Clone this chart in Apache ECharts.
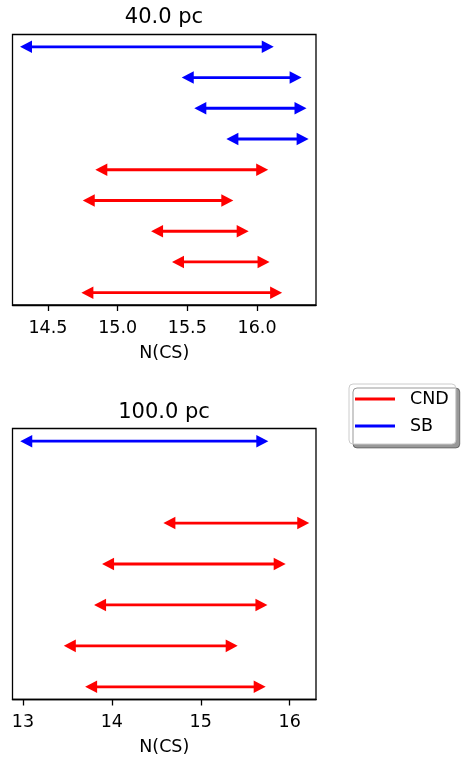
<!DOCTYPE html>
<html>
<head>
<meta charset="utf-8">
<script src="https://cdn.jsdelivr.net/npm/echarts@6/dist/echarts.min.js"></script>
<style>
  html, body { margin: 0; padding: 0; background: #fff; }
  #chart { width: 463px; height: 760px; }
</style>
</head>
<body>
<div id="chart"></div>
<script>
// top panel (40.0 pc) ranges, rows counted from the bottom
var topSBLo = [14.30, 15.46, 15.55, 15.78];
var topSBHi = [16.12, 16.32, 16.355, 16.37];
var topSBRow = [8, 7, 6, 5];
var topCNDLo = [14.84, 14.75, 15.24, 15.39, 14.74];
var topCNDHi = [16.08, 15.83, 15.94, 16.09, 16.18];
var topCNDRow = [4, 3, 2, 1, 0];
var topTicks = [14.5, 15.0, 15.5, 16.0];

// bottom panel (100.0 pc)
var botSBLo = [12.97];
var botSBHi = [15.76];
var botSBRow = [6];
var botCNDLo = [14.58, 13.89, 13.80, 13.46, 13.70];
var botCNDHi = [16.22, 15.955, 15.75, 15.415, 15.73];
var botCNDRow = [4, 3, 2, 1, 0];
var botTicks = [13, 14, 15, 16];

var FONT = 'DejaVu Sans';

function pack(lo, hi, row) {
  return lo.map(function (v, i) { return [v, hi[i], row[i]]; });
}

// double headed arrow drawn from data through the axes
function arrowItem(params, api) {
  var a = api.coord([api.value(0), api.value(2)]);
  var b = api.coord([api.value(1), api.value(2)]);
  var col = api.visual('color');
  var L = 12, H = 6.3;
  return {
    type: 'group',
    children: [
      { type: 'line', shape: { x1: a[0] + L / 2, y1: a[1], x2: b[0] - L / 2, y2: b[1] },
        style: { stroke: col, lineWidth: 2.8 } },
      { type: 'polygon', shape: { points: [[a[0], a[1]], [a[0] + L, a[1] - H], [a[0] + L, a[1] + H]] },
        style: { fill: col } },
      { type: 'polygon', shape: { points: [[b[0], b[1]], [b[0] - L, b[1] - H], [b[0] - L, b[1] + H]] },
        style: { fill: col } }
    ]
  };
}

function arrowSeries(name, color, idx, data) {
  return {
    name: name, type: 'custom', xAxisIndex: idx, yAxisIndex: idx,
    itemStyle: { color: color },
    renderItem: arrowItem,
    data: data,
    silent: true
  };
}

function xAx(idx, min, max, ticks, dec) {
  return {
    type: 'value', gridIndex: idx, min: min, max: max,
    axisLine: { show: true, onZero: false, lineStyle: { color: '#000', width: 1.3 } },
    axisTick: { show: true, length: 6, customValues: ticks, lineStyle: { color: '#000', width: 1.3 } },
    axisLabel: { customValues: ticks, color: '#000', fontFamily: FONT, fontSize: 17.5, margin: 14,
      formatter: function (v) { return v.toFixed(dec); } },
    splitLine: { show: false },
    name: 'N(CS)', nameLocation: 'middle', nameGap: 39,
    nameTextStyle: { color: '#000', fontFamily: FONT, fontSize: 17.5 }
  };
}

function yAx(idx, min, max) {
  return {
    type: 'value', gridIndex: idx, min: min, max: max,
    axisLine: { show: false }, axisTick: { show: false },
    axisLabel: { show: false }, splitLine: { show: false }
  };
}

var chart = echarts.init(document.getElementById('chart'), null, { renderer: 'canvas' });
chart.setOption({
  animation: false,
  backgroundColor: '#fff',
  title: [
    { text: '40.0 pc', left: 164, textAlign: 'center', top: 7, padding: 0,
      textStyle: { fontFamily: FONT, fontSize: 21, fontWeight: 'normal', color: '#000' } },
    { text: '100.0 pc', left: 164, textAlign: 'center', top: 402, padding: 0,
      textStyle: { fontFamily: FONT, fontSize: 21, fontWeight: 'normal', color: '#000' } }
  ],
  legend: {
    data: ['CND', 'SB'],
    orient: 'vertical',
    left: 349, top: 384,
    padding: [6, 7, 9, 6],
    itemGap: 9,
    itemWidth: 40, itemHeight: 2.8,
    icon: 'rect',
    selectedMode: false,
    backgroundColor: '#fff',
    borderColor: '#cccccc', borderWidth: 1, borderRadius: 4,
    shadowColor: 'rgba(0,0,0,0.4)', shadowBlur: 0, shadowOffsetX: 4, shadowOffsetY: 4,
    textStyle: { fontFamily: FONT, fontSize: 17.5, color: '#000', padding: [0, 0, 0, 10] }
  },
  grid: [
    { left: 12.5, top: 34.5, width: 303.5, height: 270.5, show: true,
      borderColor: '#000', borderWidth: 1.3, backgroundColor: 'transparent' },
    { left: 12.5, top: 428.5, width: 303.5, height: 271, show: true,
      borderColor: '#000', borderWidth: 1.3, backgroundColor: 'transparent' }
  ],
  xAxis: [
    xAx(0, 14.246, 16.423, topTicks, 1),
    xAx(1, 12.883, 16.296, botTicks, 0)
  ],
  yAxis: [
    yAx(0, -0.4, 8.4),
    yAx(1, -0.31, 6.31)
  ],
  series: [
    arrowSeries('SB', '#0000ff', 0, pack(topSBLo, topSBHi, topSBRow)),
    arrowSeries('CND', '#ff0000', 0, pack(topCNDLo, topCNDHi, topCNDRow)),
    arrowSeries('CND', '#ff0000', 1, pack(botCNDLo, botCNDHi, botCNDRow)),
    arrowSeries('SB', '#0000ff', 1, pack(botSBLo, botSBHi, botSBRow))
  ]
});
</script>
</body>
</html>
